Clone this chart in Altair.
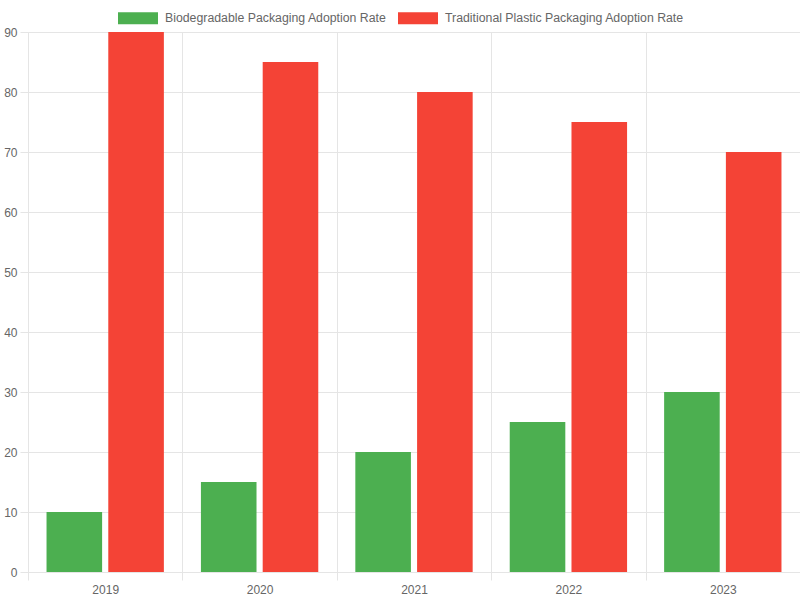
import altair as alt
import pandas as pd

years = ["2019", "2020", "2021", "2022", "2023"]
biodegradable = [10, 15, 20, 25, 30]
traditional = [90, 85, 80, 75, 70]
series = ["Biodegradable Packaging Adoption Rate", "Traditional Plastic Packaging Adoption Rate"]
colors = ["#4CAF50", "#F44336"]

rows = []
for y, b, t in zip(years, biodegradable, traditional):
    rows.append({"year": y, "series": series[0], "value": b})
    rows.append({"year": y, "series": series[1], "value": t})
df = pd.DataFrame(rows)

FONT = "Liberation Sans"
GRID = "#e5e5e5"
TXT = "#666666"

chart = alt.Chart(df).mark_bar(stroke=None).encode(
    x=alt.X("year:N", sort=years, title=None,
            scale=alt.Scale(paddingInner=0, paddingOuter=0),
            axis=alt.Axis(labelAngle=0, tickBand="extent", grid=True, gridColor=GRID,
                          domainColor=GRID, tickColor=GRID, tickSize=8,
                          labelColor=TXT, labelFontSize=12, labelFont=FONT, labelPadding=4)),
    xOffset=alt.XOffset("series:N", sort=series,
                        scale=alt.Scale(paddingInner=0.1, paddingOuter=0.3)),
    y=alt.Y("value:Q", title=None,
            scale=alt.Scale(domain=[0, 90], nice=False),
            axis=alt.Axis(values=list(range(0, 91, 10)), grid=True, gridColor=GRID,
                          domainColor=GRID, tickColor=GRID, tickSize=8,
                          labelColor=TXT, labelFontSize=12, labelFont=FONT, labelPadding=3)),
    color=alt.Color("series:N", sort=series,
                    scale=alt.Scale(domain=series, range=colors),
                    legend=alt.Legend(title=None, orient="none", direction="horizontal",
                                      legendX=90, legendY=-34,
                                      symbolType="M-1,-0.3L1,-0.3L1,0.3L-1,0.3Z",
                                      symbolSize=1600, symbolStrokeWidth=0,
                                      labelFont=FONT, labelFontSize=12.3, labelColor=TXT,
                                      labelLimit=500,
                                      labelOffset=7, columnPadding=11, padding=0)),
).properties(
    width=772, height=540,
    autosize=alt.AutoSizeParams(type="none"),
    padding={"left": 28, "top": 32, "right": 0, "bottom": 28},
).configure_view(stroke=None).configure_axis(labelFont=FONT)

chart.save("out.html", embed_options={"renderer": "svg", "actions": False})
